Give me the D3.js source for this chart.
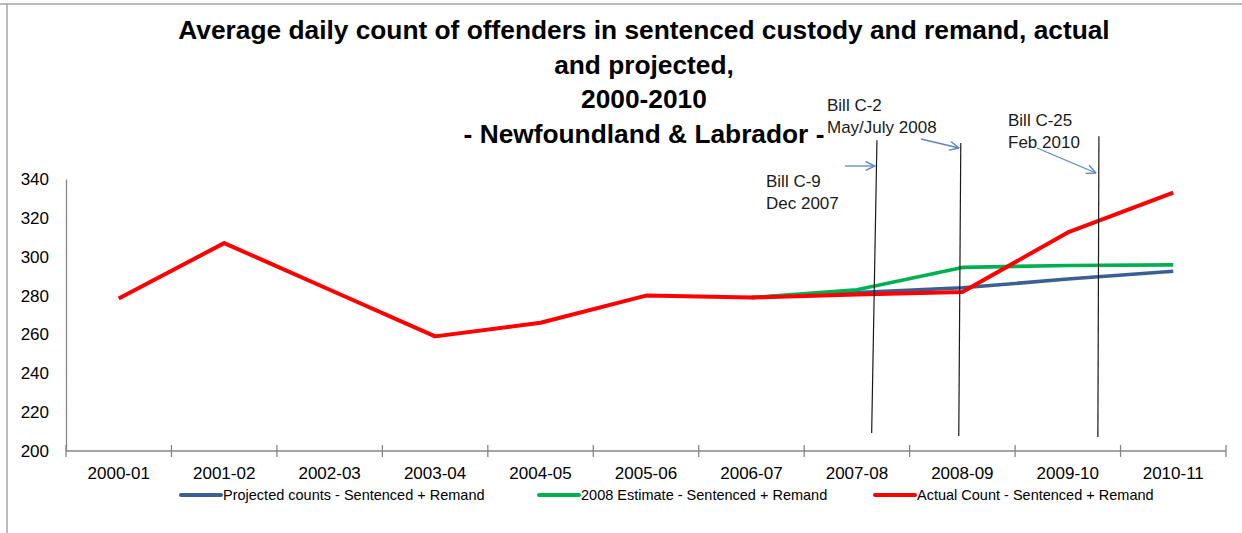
<!DOCTYPE html>
<html>
<head>
<meta charset="utf-8">
<script src="https://cdn.jsdelivr.net/npm/d3@7"></script>
<style>
  html, body { margin: 0; padding: 0; background: #fff; }
  svg { display: block; }
  text { font-family: "Liberation Sans", Arial, sans-serif; }
</style>
</head>
<body>
<svg id="chart" width="1242" height="533"></svg>
<script>
// data
var categories = ['2000-01', '2001-02', '2002-03', '2003-04', '2004-05', '2005-06',
                  '2006-07', '2007-08', '2008-09', '2009-10', '2010-11'];
var projected = [null, null, null, null, null, null, 279, 281.5, 284, 288.5, 292.5];
var estimate2008 = [null, null, null, null, null, null, 279, 283, 294.5, 295.5, 295.8];
var actual = [278.5, 307, 283, 259, 266, 280, 279, 280.5, 281.8, 312.5, 333];
var yTicks = [200, 220, 240, 260, 280, 300, 320, 340];
var titleLines = ['Average daily count of offenders in sentenced custody and remand, actual',
                  'and projected,', '2000-2010', '- Newfoundland & Labrador -'];
var seriesNames = ['Projected counts - Sentenced + Remand',
                   '2008 Estimate - Sentenced + Remand',
                   'Actual Count - Sentenced + Remand'];
var billLabels = [['Bill C-9', 'Dec 2007'], ['Bill C-2', 'May/July 2008'], ['Bill C-25', 'Feb 2010']];

(function() {
  var svg = d3.select('#chart');
  var plotL = 66, plotR = 1226, plotT = 179, plotB = 451;

  var x = d3.scaleBand().domain(categories).range([plotL, plotR]).padding(0);
  var xi = d3.scaleLinear().domain([-0.5, categories.length - 0.5]).range([plotL, plotR]);
  var y = d3.scaleLinear().domain([200, 340]).range([plotB, plotT]);
  var cx = function(i) { return x(categories[i]) + x.bandwidth() / 2; };

  // frame edges
  svg.append('line').attr('x1', 0).attr('x2', 1242).attr('y1', 4).attr('y2', 4)
    .attr('stroke', '#a6a6a6').attr('stroke-width', 1.5);
  svg.append('line').attr('x1', 7).attr('x2', 7).attr('y1', 4).attr('y2', 533)
    .attr('stroke', '#a6a6a6').attr('stroke-width', 1.5);

  // title
  svg.append('g').selectAll('text').data(titleLines).enter().append('text')
    .attr('x', 644).attr('y', function(d, i) { return 39 + i * 34.7; })
    .attr('text-anchor', 'middle')
    .style('font-size', '26.3px').style('font-weight', 'bold').style('fill', '#000')
    .text(function(d) { return d; });

  // y axis
  var yAxis = d3.axisLeft(y).tickValues(yTicks).tickSize(0).tickPadding(17);
  var gy = svg.append('g').attr('transform', 'translate(' + plotL + ',0)').call(yAxis);
  gy.select('.domain').attr('stroke', '#868686').attr('stroke-width', 1.3);
  gy.selectAll('text').style('font-size', '17px').style('fill', '#000')
    .style('font-family', '"Liberation Sans", Arial, sans-serif');

  // x axis with crossing tick marks at band edges
  var gx = svg.append('g').attr('transform', 'translate(0,' + plotB + ')');
  gx.append('line').attr('x1', plotL).attr('x2', plotR).attr('y1', 0).attr('y2', 0)
    .attr('stroke', '#868686').attr('stroke-width', 1.3);
  gx.selectAll('line.tick').data(d3.range(categories.length + 1)).enter().append('line')
    .attr('class', 'tick')
    .attr('x1', function(i) { return xi(i - 0.5); }).attr('x2', function(i) { return xi(i - 0.5); })
    .attr('y1', -6).attr('y2', 6)
    .attr('stroke', '#868686').attr('stroke-width', 1.3);
  gx.selectAll('text').data(categories).enter().append('text')
    .attr('x', function(d, i) { return cx(i); }).attr('y', 28)
    .attr('text-anchor', 'middle').style('font-size', '17px').style('fill', '#000')
    .text(function(d) { return d; });

  // lines
  var colors = ['#3b5f95', '#00b050', '#ff0000'];
  var widths = [3.6, 3.6, 4];
  var allSeries = [projected, estimate2008, actual];
  var line = d3.line()
    .defined(function(d) { return d != null; })
    .x(function(d, i) { return cx(i); })
    .y(function(d) { return y(d); });

  svg.append('g').selectAll('path').data(allSeries).enter().append('path')
    .attr('d', line)
    .attr('fill', 'none')
    .attr('stroke', function(d, i) { return colors[i]; })
    .attr('stroke-width', function(d, i) { return widths[i]; })
    .attr('stroke-linejoin', 'round');

  // bill markers: slightly leaning vertical rules, arrows and labels
  var marks = [
    { top: [7.19, 360], bot: [7.14, 209.3], from: [845, 166], to: [875, 166], tx: 766, ty: 187 },
    { top: [7.985, 358.5], bot: [7.966, 207.7], from: [921, 139], to: [959, 148], tx: 827, ty: 111 },
    { top: [9.295, 362], bot: [9.285, 207.2], from: [1037, 148], to: [1096, 173], tx: 1008, ty: 126 }
  ];

  var defs = svg.append('defs');
  defs.append('marker').attr('id', 'arr').attr('viewBox', '0 0 10 10')
    .attr('refX', 9.5).attr('refY', 5).attr('markerWidth', 11).attr('markerHeight', 11)
    .attr('markerUnits', 'userSpaceOnUse').attr('orient', 'auto')
    .append('path').attr('d', 'M1,1 L9.5,5 L1,9').attr('fill', 'none')
    .attr('stroke', '#5b86c0').attr('stroke-width', 1.3);

  var gm = svg.append('g');
  gm.selectAll('line.rule').data(marks).enter().append('line').attr('class', 'rule')
    .attr('x1', function(d) { return xi(d.top[0]); }).attr('y1', function(d) { return y(d.top[1]); })
    .attr('x2', function(d) { return xi(d.bot[0]); }).attr('y2', function(d) { return y(d.bot[1]); })
    .attr('stroke', '#1a1a1a').attr('stroke-width', 1.2);
  gm.selectAll('line.arrow').data(marks).enter().append('line').attr('class', 'arrow')
    .attr('x1', function(d) { return d.from[0]; }).attr('y1', function(d) { return d.from[1]; })
    .attr('x2', function(d) { return d.to[0]; }).attr('y2', function(d) { return d.to[1]; })
    .attr('stroke', '#5b86c0').attr('stroke-width', 1.3).attr('marker-end', 'url(#arr)');
  gm.selectAll('g.lbl').data(marks).enter().append('g').attr('class', 'lbl')
    .each(function(d, i) {
      d3.select(this).selectAll('text').data(billLabels[i]).enter().append('text')
        .attr('x', d.tx).attr('y', function(t, k) { return d.ty + k * 21.5; })
        .style('font-size', '17px').style('fill', '#1a1a1a')
        .text(function(t) { return t; });
    });

  // legend
  var legendX = [181, 539, 875];
  var gl = svg.append('g').attr('transform', 'translate(0,495)');
  var li = gl.selectAll('g').data(seriesNames).enter().append('g')
    .attr('transform', function(d, i) { return 'translate(' + legendX[i] + ',0)'; });
  li.append('line').attr('x1', 0).attr('x2', 40).attr('y1', 0).attr('y2', 0)
    .attr('stroke', function(d, i) { return colors[i]; }).attr('stroke-width', 4)
    .attr('stroke-linecap', 'round');
  li.append('text').attr('x', 42).attr('y', 5)
    .style('font-size', '14.5px').style('fill', '#000')
    .text(function(d) { return d; });
})();
</script>
</body>
</html>
